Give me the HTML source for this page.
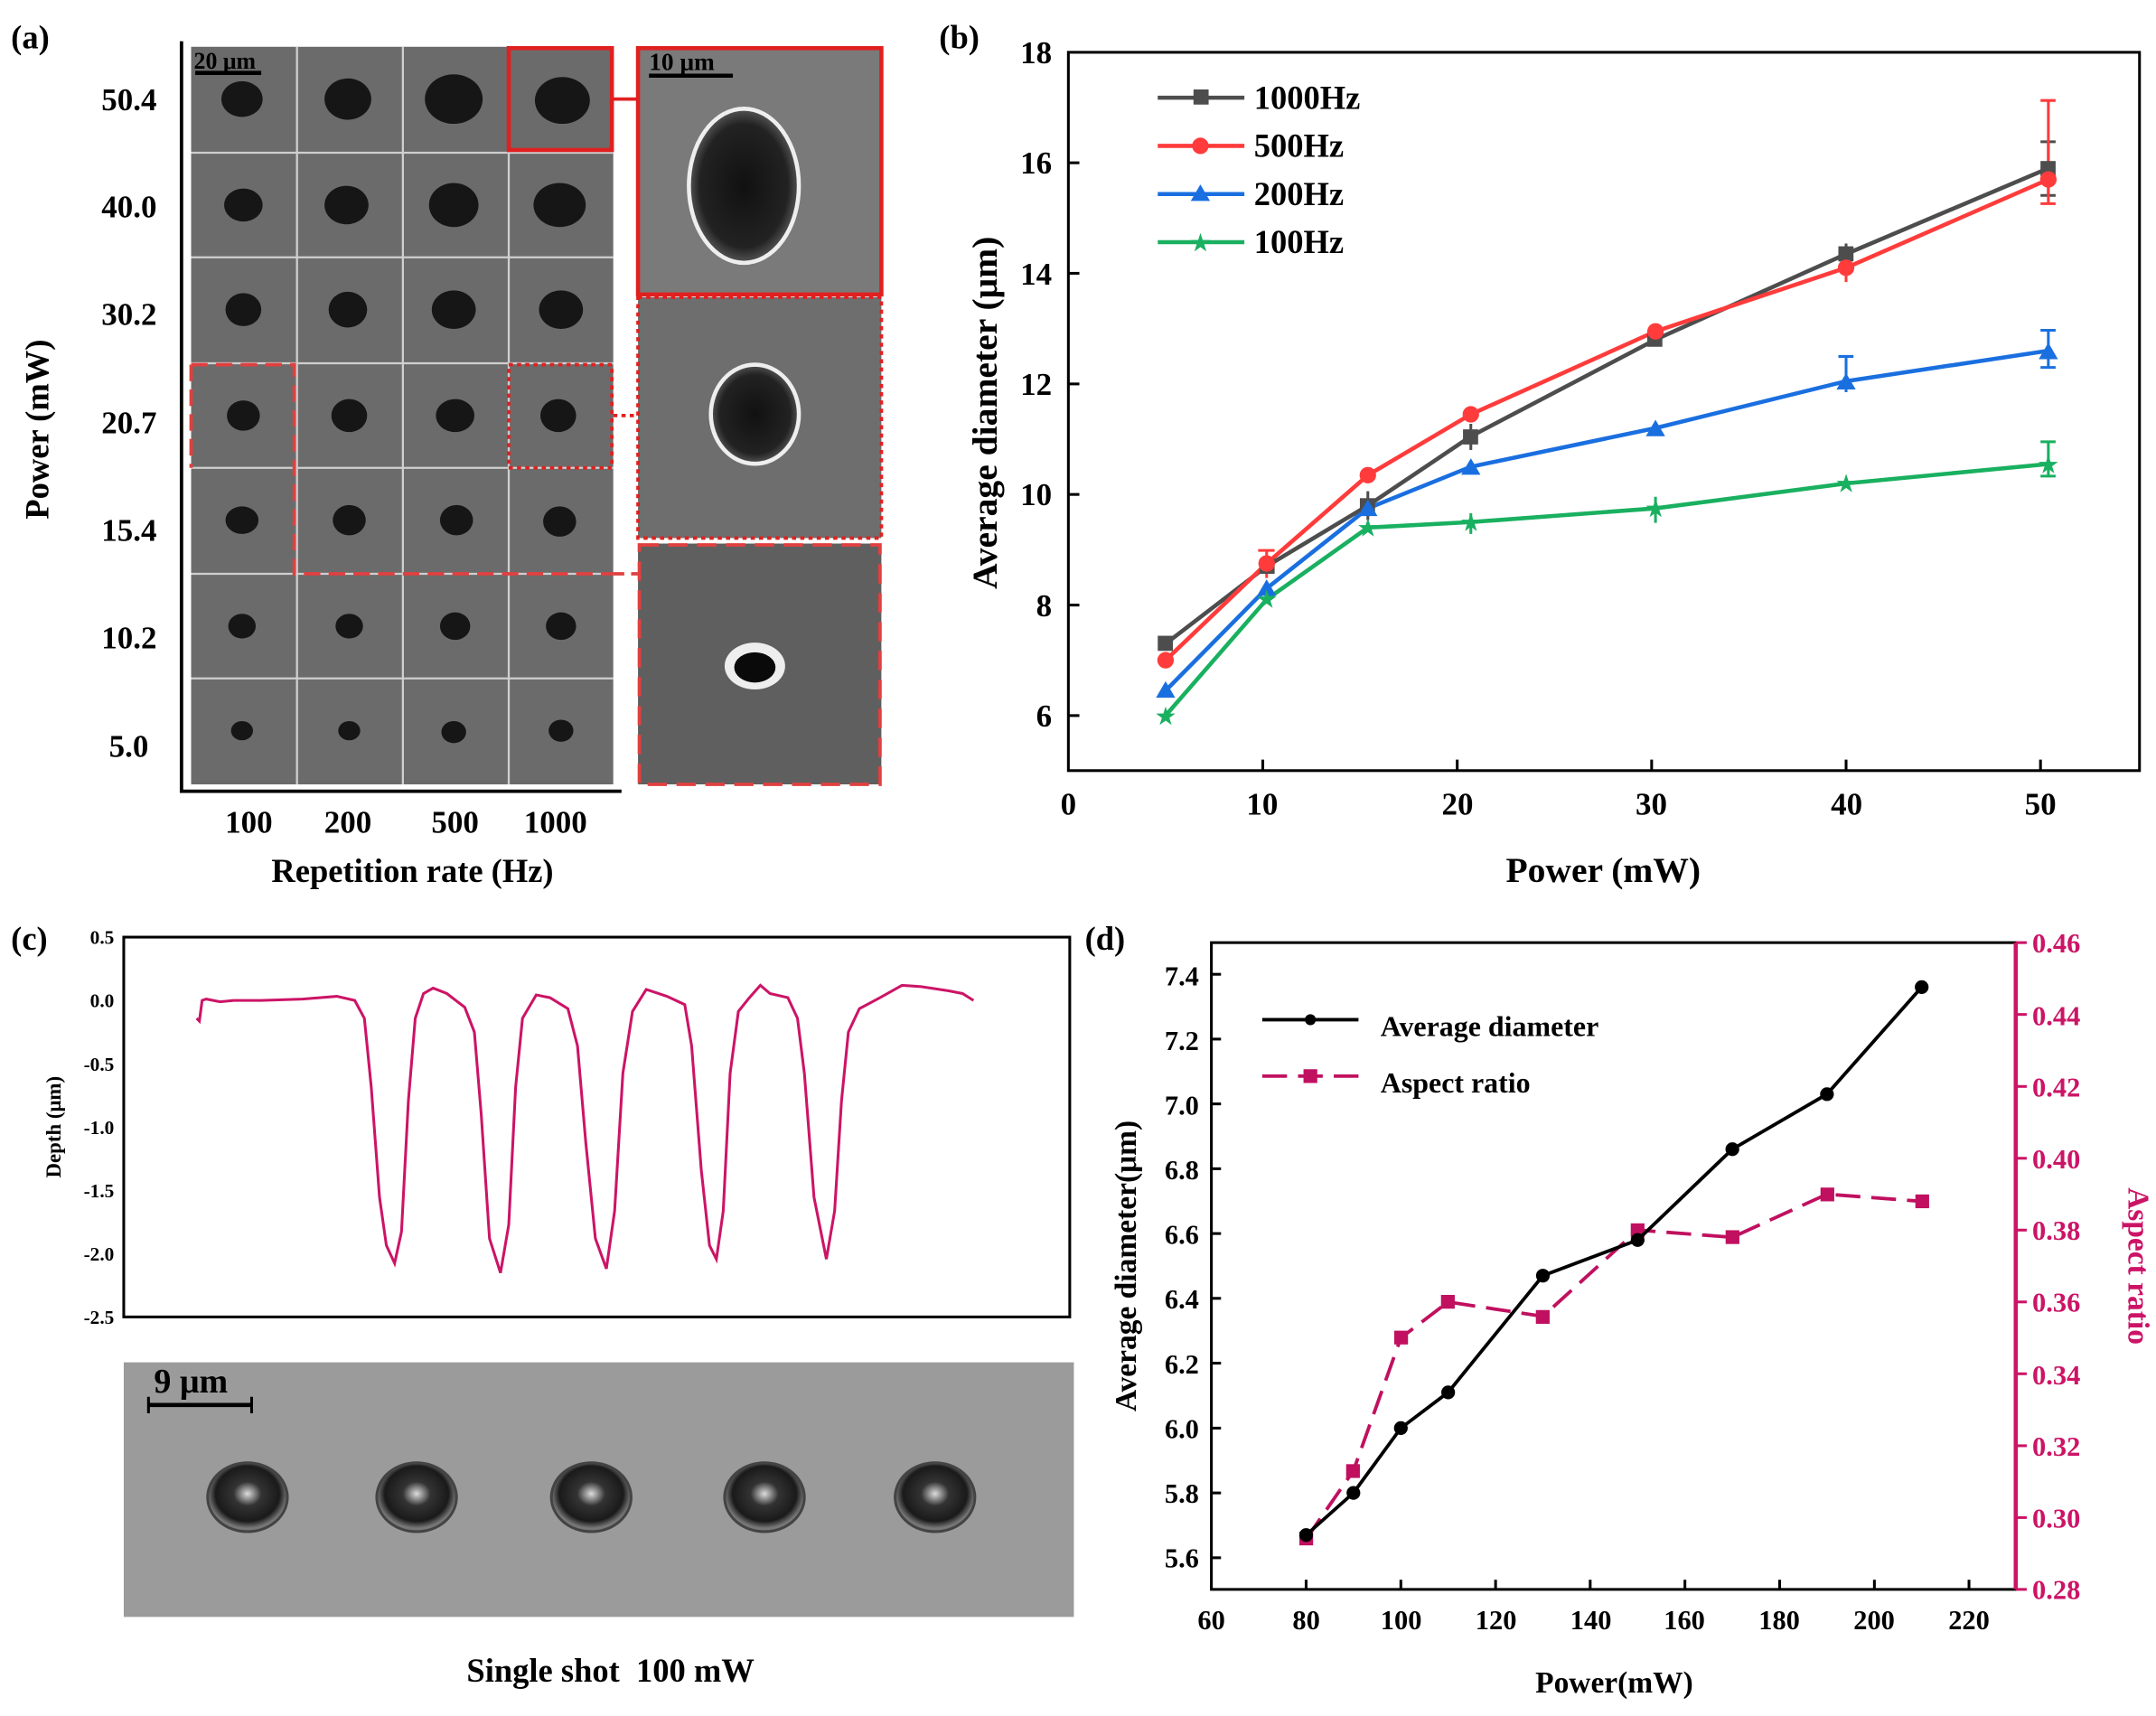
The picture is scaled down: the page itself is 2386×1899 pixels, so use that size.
<!DOCTYPE html>
<html><head><meta charset="utf-8"><style>html,body{margin:0;padding:0;background:#fff}svg{display:block}text{font-family:"Liberation Serif",serif;font-weight:bold}</style></head><body>
<svg width="2386" height="1899" viewBox="0 0 1568 1247" preserveAspectRatio="none" xmlns="http://www.w3.org/2000/svg">
<defs>
<radialGradient id="hole" cx="50%" cy="50%" r="50%"><stop offset="0" stop-color="#111"/><stop offset="0.8" stop-color="#222"/><stop offset="1" stop-color="#555"/></radialGradient>
<radialGradient id="hole2" cx="50%" cy="45%" r="50%"><stop offset="0" stop-color="#ddd"/><stop offset="0.35" stop-color="#333"/><stop offset="0.8" stop-color="#1a1a1a"/><stop offset="1" stop-color="#777"/></radialGradient>
</defs>
<!-- (a) -->
<text x="8" y="35" font-size="24">(a)</text>
<rect x="139" y="34" width="307" height="536" fill="#6b6b6b"/>
<g stroke="#cfcfcf" stroke-width="1.5">
<line x1="216" y1="34" x2="216" y2="570"/><line x1="293" y1="34" x2="293" y2="570"/><line x1="370" y1="34" x2="370" y2="570"/>
<line x1="139" y1="111" x2="446" y2="111"/><line x1="139" y1="187" x2="446" y2="187"/><line x1="139" y1="264" x2="446" y2="264"/><line x1="139" y1="340" x2="446" y2="340"/><line x1="139" y1="417" x2="446" y2="417"/><line x1="139" y1="493" x2="446" y2="493"/>
</g>
<g fill="#161616">
<ellipse cx="176" cy="72" rx="15" ry="13"/><ellipse cx="253" cy="72" rx="17" ry="15"/><ellipse cx="330" cy="72" rx="21" ry="18"/><ellipse cx="409" cy="73" rx="20" ry="17"/>
<ellipse cx="177" cy="149" rx="14" ry="12"/><ellipse cx="252" cy="149" rx="16" ry="14"/><ellipse cx="330" cy="149" rx="18" ry="16"/><ellipse cx="407" cy="149" rx="19" ry="16"/>
<ellipse cx="177" cy="225" rx="13" ry="12"/><ellipse cx="253" cy="225" rx="14" ry="13"/><ellipse cx="330" cy="225" rx="16" ry="14"/><ellipse cx="408" cy="225" rx="16" ry="14"/>
<ellipse cx="177" cy="302" rx="12" ry="11"/><ellipse cx="254" cy="302" rx="13" ry="12"/><ellipse cx="331" cy="302" rx="14" ry="12"/><ellipse cx="406" cy="302" rx="13" ry="12"/>
<ellipse cx="176" cy="378" rx="12" ry="10"/><ellipse cx="254" cy="378" rx="12" ry="11"/><ellipse cx="332" cy="378" rx="12" ry="11"/><ellipse cx="407" cy="379" rx="12" ry="11"/>
<ellipse cx="176" cy="455" rx="10" ry="9"/><ellipse cx="254" cy="455" rx="10" ry="9"/><ellipse cx="331" cy="455" rx="11" ry="10"/><ellipse cx="408" cy="455" rx="11" ry="10"/>
<ellipse cx="176" cy="531" rx="8" ry="7"/><ellipse cx="254" cy="531" rx="8" ry="7"/><ellipse cx="330" cy="532" rx="9" ry="8"/><ellipse cx="408" cy="531" rx="9" ry="8"/>
</g>
<line x1="142" y1="53" x2="190" y2="53" stroke="#000" stroke-width="3"/>
<text x="141" y="50" font-size="17">20 μm</text>
<rect x="370" y="35" width="75" height="74" fill="none" stroke="#e02020" stroke-width="3"/>
<rect x="370" y="265" width="75" height="75" fill="none" stroke="#e02020" stroke-width="2.5" stroke-dasharray="3 3"/>
<path d="M139 265 H214 V417 H446" fill="none" stroke="#e04040" stroke-width="2.5" stroke-dasharray="12 6"/>
<line x1="139" y1="265" x2="139" y2="340" stroke="#e04040" stroke-width="2.5" stroke-dasharray="12 6"/>
<line x1="446" y1="72" x2="464" y2="72" stroke="#e02020" stroke-width="2.5"/>
<line x1="446" y1="302" x2="464" y2="302" stroke="#e02020" stroke-width="2.5" stroke-dasharray="3 3"/>
<line x1="446" y1="417" x2="464" y2="417" stroke="#e04040" stroke-width="2.5" stroke-dasharray="8 5"/>
<rect x="464" y="34" width="177" height="180" fill="#7a7a7a"/>
<ellipse cx="541" cy="135" rx="40" ry="56" fill="url(#hole)" stroke="#eee" stroke-width="3"/>
<line x1="472" y1="55" x2="533" y2="55" stroke="#000" stroke-width="3"/>
<text x="472" y="51" font-size="18">10 μm</text>
<rect x="464" y="35" width="177" height="179" fill="none" stroke="#e02020" stroke-width="3"/>
<rect x="464" y="216" width="177" height="175" fill="#6e6e6e"/>
<ellipse cx="549" cy="301" rx="32" ry="36" fill="url(#hole)" stroke="#eee" stroke-width="3"/>
<rect x="464" y="216" width="177" height="175" fill="none" stroke="#e02020" stroke-width="2.5" stroke-dasharray="3 3"/>
<rect x="464" y="395" width="177" height="175" fill="#5f5f5f"/>
<ellipse cx="549" cy="484" rx="22" ry="17" fill="#eee"/><ellipse cx="549" cy="485" rx="15" ry="11" fill="#0a0a0a"/>
<rect x="465" y="396" width="175" height="174" fill="none" stroke="#e04040" stroke-width="2.5" stroke-dasharray="14 7"/>
<path d="M132 30 V575 H452" fill="none" stroke="#000" stroke-width="2.5"/>
<g font-size="23" text-anchor="end">
<text x="114" y="80">50.4</text><text x="114" y="158">40.0</text><text x="114" y="236">30.2</text><text x="114" y="315">20.7</text><text x="114" y="393">15.4</text><text x="114" y="471">10.2</text><text x="108" y="550">5.0</text>
</g>
<g font-size="23" text-anchor="middle">
<text x="181" y="605">100</text><text x="253" y="605">200</text><text x="331" y="605">500</text><text x="404" y="605">1000</text>
<text x="300" y="641" font-size="24">Repetition rate (Hz)</text>
</g>
<text transform="translate(35 312) rotate(-90)" font-size="24" text-anchor="middle">Power (mW)</text>

<!-- (b) -->
<text x="683" y="35" font-size="24">(b)</text>
<rect x="777" y="38" width="779" height="522" fill="none" stroke="#000" stroke-width="2"/>
<g stroke="#000" stroke-width="2">
<line x1="777" y1="520" x2="785" y2="520"/><line x1="777" y1="439.7" x2="785" y2="439.7"/><line x1="777" y1="359.3" x2="785" y2="359.3"/><line x1="777" y1="279" x2="785" y2="279"/><line x1="777" y1="198.6" x2="785" y2="198.6"/><line x1="777" y1="118.3" x2="785" y2="118.3"/>
<line x1="918.4" y1="560" x2="918.4" y2="552"/><line x1="1059.8" y1="560" x2="1059.8" y2="552"/><line x1="1201.2" y1="560" x2="1201.2" y2="552"/><line x1="1342.6" y1="560" x2="1342.6" y2="552"/><line x1="1484" y1="560" x2="1484" y2="552"/>
</g>
<g font-size="23" text-anchor="end">
<text x="765" y="528">6</text><text x="765" y="448">8</text><text x="765" y="367">10</text><text x="765" y="287">12</text><text x="765" y="207">14</text><text x="765" y="126">16</text><text x="765" y="46">18</text>
</g>
<g font-size="23" text-anchor="middle">
<text x="777" y="592">0</text><text x="918" y="592">10</text><text x="1060" y="592">20</text><text x="1201" y="592">30</text><text x="1343" y="592">40</text><text x="1484" y="592">50</text>
<text x="1166" y="641" font-size="26">Power (mW)</text>
</g>
<text transform="translate(725 300) rotate(-90)" font-size="26" text-anchor="middle">Average diameter (μm)</text>
<g fill="none" stroke-width="3">
<polyline stroke="#4d4d4d" points="847.7,467.8 921.2,411.5 994.8,367.4 1069.7,317.1 1204,246.8 1342.6,184.6 1489.7,122.3"/>
<polyline stroke="#ff3b3b" points="847.7,479.8 921.2,409.5 994.8,345.3 1069.7,301.1 1204,240.8 1342.6,194.6 1489.7,130.4"/>
<polyline stroke="#1a6fe0" points="847.7,501.9 921.2,427.6 994.8,369.4 1069.7,339.2 1204,311.1 1342.6,277 1489.7,254.9"/>
<polyline stroke="#19b060" points="847.7,520 921.2,435.6 994.8,383.4 1069.7,379.4 1204,369.4 1342.6,351.3 1489.7,337.2"/>
</g>
<g stroke-width="2" fill="none">
<path stroke="#4d4d4d" d="M1489.7 103V142M1484 103h11M1484 142h11M994.8 357V378M1069.7 308V327M1342.6 177V192"/>
<path stroke="#ff3b3b" d="M1489.7 73V148M1484 73h11M1484 148h11M921.2 400V420M915 400h12M1342.6 185V205"/>
<path stroke="#1a6fe0" d="M1489.7 240V267M1484 240h11M1484 267h11M1342.6 259V285M1337 259h11"/>
<path stroke="#19b060" d="M1489.7 321V346M1484 321h11M1484 346h11M1204 361V380M1069.7 373V388"/>
</g>
<g fill="#4d4d4d"><rect x="842" y="462" width="11" height="11"/><rect x="916" y="406" width="11" height="11"/><rect x="989" y="362" width="11" height="11"/><rect x="1064" y="312" width="11" height="11"/><rect x="1198" y="241" width="11" height="11"/><rect x="1337" y="179" width="11" height="11"/><rect x="1484" y="117" width="11" height="11"/></g>
<g fill="#ff3b3b"><circle cx="847.7" cy="479.8" r="6"/><circle cx="921.2" cy="409.5" r="6"/><circle cx="994.8" cy="345.3" r="6"/><circle cx="1069.7" cy="301.1" r="6"/><circle cx="1204" cy="240.8" r="6"/><circle cx="1342.6" cy="194.6" r="6"/><circle cx="1489.7" cy="130.4" r="6"/></g>
<g fill="#1a6fe0"><path d="M847.7 495l7 12h-14z"/><path d="M921.2 421l7 12h-14z"/><path d="M994.8 363l7 12h-14z"/><path d="M1069.7 333l7 12h-14z"/><path d="M1204 305l7 12h-14z"/><path d="M1342.6 271l7 12h-14z"/><path d="M1489.7 249l7 12h-14z"/></g>
<g fill="#19b060" font-size="16" text-anchor="middle" font-family="DejaVu Sans"><text x="847.7" y="526">★</text><text x="921.2" y="441">★</text><text x="994.8" y="389">★</text><text x="1069.7" y="385">★</text><text x="1204" y="375">★</text><text x="1342.6" y="357">★</text><text x="1489.7" y="343">★</text></g>
<g stroke-width="3">
<line x1="842" y1="71" x2="905" y2="71" stroke="#4d4d4d"/><rect x="868" y="65" width="11" height="11" fill="#4d4d4d"/>
<line x1="842" y1="106" x2="905" y2="106" stroke="#ff3b3b"/><circle cx="873" cy="106" r="6" fill="#ff3b3b"/>
<line x1="842" y1="141" x2="905" y2="141" stroke="#1a6fe0"/><path d="M873 134l7 12h-14z" fill="#1a6fe0" stroke="none"/>
<line x1="842" y1="176" x2="905" y2="176" stroke="#19b060"/>
</g>
<text x="873" y="182" fill="#19b060" font-size="16" text-anchor="middle" font-family="DejaVu Sans">★</text>
<g font-size="24"><text x="912" y="79">1000Hz</text><text x="912" y="114">500Hz</text><text x="912" y="149">200Hz</text><text x="912" y="184">100Hz</text></g>

<!-- (c) -->
<text x="8" y="690" font-size="24">(c)</text>
<rect x="90" y="681" width="688" height="276" fill="none" stroke="#000" stroke-width="2"/>
<g font-size="14" text-anchor="end"><text x="83" y="686">0.5</text><text x="83" y="732">0.0</text><text x="83" y="778">-0.5</text><text x="83" y="824">-1.0</text><text x="83" y="870">-1.5</text><text x="83" y="916">-2.0</text><text x="83" y="962">-2.5</text></g>
<text transform="translate(44 819) rotate(-90)" font-size="15" text-anchor="middle">Depth (μm)</text>
<polyline fill="none" stroke="#cc1466" stroke-width="2" points="143,740 145,742 147,727 150,726 160,728 170,727 190,727 220,726 245,724 258,727 265,740 270,790 276,870 281,905 287,918 292,895 297,800 302,740 308,722 315,718 325,722 338,732 345,750 350,810 356,900 364,925 370,890 375,790 380,740 390,723 400,725 413,733 420,760 426,830 433,900 441,922 447,880 453,780 460,735 470,719 485,724 498,730 503,760 510,850 516,905 521,915 526,880 531,780 537,735 545,725 553,716 560,722 573,725 580,740 585,780 592,870 597,895 601,915 607,880 612,800 617,750 625,733 640,725 656,716 670,717 690,720 700,722 708,727"/>
<rect x="90" y="990" width="691" height="185" fill="#9b9b9b"/>
<g fill="url(#hole2)" stroke="#444" stroke-width="2">
<ellipse cx="180" cy="1088" rx="29" ry="25"/><ellipse cx="303" cy="1088" rx="29" ry="25"/><ellipse cx="430" cy="1088" rx="29" ry="25"/><ellipse cx="556" cy="1088" rx="29" ry="25"/><ellipse cx="680" cy="1088" rx="29" ry="25"/>
</g>
<line x1="108" y1="1021" x2="183" y2="1021" stroke="#000" stroke-width="3"/>
<path d="M108 1015V1027M183 1015V1027" stroke="#000" stroke-width="2"/>
<text x="112" y="1012" font-size="25">9 μm</text>
<text x="444" y="1222" font-size="24" text-anchor="middle">Single shot&#160; 100 mW</text>

<!-- (d) -->
<text x="789" y="690" font-size="24">(d)</text>
<rect x="881" y="685" width="585" height="470" fill="none" stroke="#000" stroke-width="2"/>
<line x1="1466" y1="685" x2="1466" y2="1155" stroke="#cc1466" stroke-width="3"/>
<g font-size="20" text-anchor="end">
<text x="872" y="1139">5.6</text><text x="872" y="1092">5.8</text><text x="872" y="1045">6.0</text><text x="872" y="998">6.2</text><text x="872" y="951">6.4</text><text x="872" y="904">6.6</text><text x="872" y="857">6.8</text><text x="872" y="810">7.0</text><text x="872" y="763">7.2</text><text x="872" y="716">7.4</text>
</g>
<g stroke="#000" stroke-width="2"><line x1="881" y1="1132" x2="888" y2="1132"/><line x1="881" y1="1084.9" x2="888" y2="1084.9"/><line x1="881" y1="1037.8" x2="888" y2="1037.8"/><line x1="881" y1="990.6" x2="888" y2="990.6"/><line x1="881" y1="943.5" x2="888" y2="943.5"/><line x1="881" y1="896.4" x2="888" y2="896.4"/><line x1="881" y1="849.3" x2="888" y2="849.3"/><line x1="881" y1="802.2" x2="888" y2="802.2"/><line x1="881" y1="755.1" x2="888" y2="755.1"/><line x1="881" y1="708" x2="888" y2="708"/></g>
<g stroke="#cc1466" stroke-width="2"><line x1="1466" y1="1155" x2="1474" y2="1155"/><line x1="1466" y1="1102.8" x2="1474" y2="1102.8"/><line x1="1466" y1="1050.6" x2="1474" y2="1050.6"/><line x1="1466" y1="998.3" x2="1474" y2="998.3"/><line x1="1466" y1="946.1" x2="1474" y2="946.1"/><line x1="1466" y1="893.9" x2="1474" y2="893.9"/><line x1="1466" y1="841.7" x2="1474" y2="841.7"/><line x1="1466" y1="789.5" x2="1474" y2="789.5"/><line x1="1466" y1="737.2" x2="1474" y2="737.2"/><line x1="1466" y1="685" x2="1474" y2="685"/></g>
<g font-size="20" fill="#cc1466"><text x="1478" y="1162">0.28</text><text x="1478" y="1110">0.30</text><text x="1478" y="1058">0.32</text><text x="1478" y="1006">0.34</text><text x="1478" y="953">0.36</text><text x="1478" y="901">0.38</text><text x="1478" y="849">0.40</text><text x="1478" y="797">0.42</text><text x="1478" y="745">0.44</text><text x="1478" y="692">0.46</text></g>
<g font-size="20" text-anchor="middle"><text x="881" y="1184">60</text><text x="950" y="1184">80</text><text x="1019" y="1184">100</text><text x="1088" y="1184">120</text><text x="1157" y="1184">140</text><text x="1225" y="1184">160</text><text x="1294" y="1184">180</text><text x="1363" y="1184">200</text><text x="1432" y="1184">220</text></g>
<g stroke="#000" stroke-width="2"><line x1="949.9" y1="1155" x2="949.9" y2="1148"/><line x1="1018.8" y1="1155" x2="1018.8" y2="1148"/><line x1="1087.7" y1="1155" x2="1087.7" y2="1148"/><line x1="1156.5" y1="1155" x2="1156.5" y2="1148"/><line x1="1225.4" y1="1155" x2="1225.4" y2="1148"/><line x1="1294.3" y1="1155" x2="1294.3" y2="1148"/><line x1="1363.2" y1="1155" x2="1363.2" y2="1148"/><line x1="1432" y1="1155" x2="1432" y2="1148"/></g>
<text x="1174" y="1230" font-size="22" text-anchor="middle">Power(mW)</text>
<text transform="translate(826 920) rotate(-90)" font-size="22" text-anchor="middle">Average diameter(μm)</text>
<text transform="translate(1548 920) rotate(90)" font-size="22" fill="#cc1466" text-anchor="middle">Aspect ratio</text>
<polyline fill="none" stroke="#c0105f" stroke-width="2.5" stroke-dasharray="18 8" points="949.9,1118.4 984.3,1068.8 1018.8,972.2 1053.2,946.1 1122.1,956.6 1191,893.9 1259.9,899.1 1328.7,867.8 1397.6,873"/>
<g fill="#c0105f"><rect x="945" y="1113" width="10" height="10"/><rect x="979" y="1064" width="10" height="10"/><rect x="1014" y="967" width="10" height="10"/><rect x="1048" y="941" width="10" height="10"/><rect x="1117" y="952" width="10" height="10"/><rect x="1186" y="889" width="10" height="10"/><rect x="1255" y="894" width="10" height="10"/><rect x="1324" y="863" width="10" height="10"/><rect x="1393" y="868" width="10" height="10"/></g>
<polyline fill="none" stroke="#000" stroke-width="2.5" points="949.9,1115.5 984.3,1084.9 1018.8,1037.8 1053.2,1011.8 1122.1,927 1191,901.1 1259.9,835.1 1328.7,795.1 1397.6,717.3"/>
<g fill="#000"><circle cx="949.9" cy="1115.5" r="5"/><circle cx="984.3" cy="1084.9" r="5"/><circle cx="1018.8" cy="1037.8" r="5"/><circle cx="1053.2" cy="1011.8" r="5"/><circle cx="1122.1" cy="927" r="5"/><circle cx="1191" cy="901.1" r="5"/><circle cx="1259.9" cy="835.1" r="5"/><circle cx="1328.7" cy="795.1" r="5"/><circle cx="1397.6" cy="717.3" r="5"/></g>
<line x1="918" y1="741" x2="988" y2="741" stroke="#000" stroke-width="2.5"/><circle cx="953" cy="741" r="4" fill="#000"/>
<line x1="918" y1="782" x2="988" y2="782" stroke="#c0105f" stroke-width="2.5" stroke-dasharray="18 8"/><rect x="948" y="777" width="10" height="10" fill="#c0105f"/>
<g font-size="21"><text x="1004" y="753">Average diameter</text><text x="1004" y="794">Aspect ratio</text></g>
</svg>
</body></html>
